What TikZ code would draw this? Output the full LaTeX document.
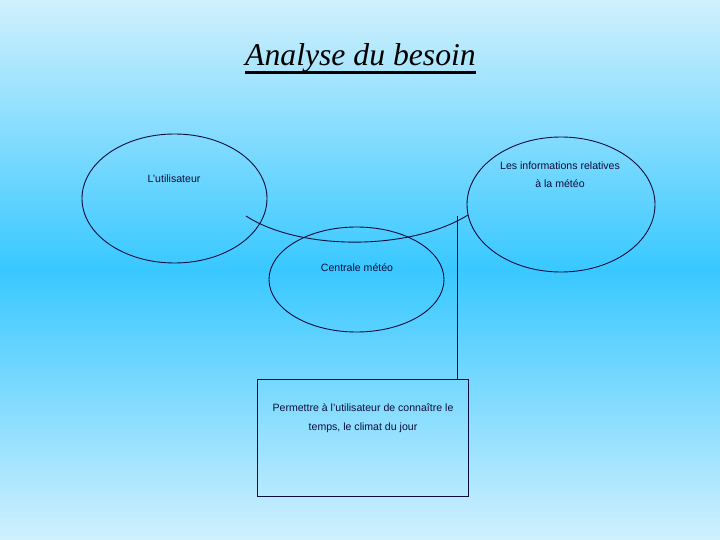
\documentclass[tikz,border=0pt]{standalone}
\usepackage{fontspec}
\setmainfont{Liberation Sans}
\newfontfamily\titrefont{Liberation Serif}
\usetikzlibrary{shapes.geometric}

\definecolor{ciel}{RGB}{208,240,253}
\definecolor{azur}{RGB}{56,200,255}
\definecolor{encre}{RGB}{12,12,60}

\begin{document}
\begin{tikzpicture}[x=1bp, y=-1bp,
  bulle/.style={draw=encre, ellipse, inner sep=0pt, line width=0.9bp},
  texte/.style={text=encre, font=\fontsize{10.6}{18.5}\selectfont, align=center, inner sep=0pt}]
\shade[top color=ciel, bottom color=ciel, middle color=azur] (0,0) rectangle (720,540);
\useasboundingbox (0,0) rectangle (720,540);

% titre
\node (titre) at (360.5,66) [anchor=base, inner sep=0pt, font=\titrefont\itshape\fontsize{31.8}{36}\selectfont] {Analyse du besoin};
\draw[line width=2.5bp] ([yshift=-6.5bp]titre.base west) -- ([yshift=-6.5bp]titre.base east);

% les trois bulles
\node (util) at (174.5,198.5) [bulle, minimum width=185bp, minimum height=129bp] {};
\node (infos) at (561,204.5) [bulle, minimum width=188bp, minimum height=135bp] {};
\node (centrale) at (356.5,279.5) [bulle, minimum width=175bp, minimum height=105bp] {};
\node (utiltxt) at (174,179) [texte] {L'utilisateur};
\node (infostxt) at (560,175) [texte] {Les informations relatives\\ à la météo};
\node (centraletxt) at (357,268) [texte] {Centrale météo};

% but
\node (but) at (362.5,437.5) [draw=encre, line width=0.9bp, minimum width=211bp, minimum height=117bp, inner sep=0pt] {};
\node (buttxt) at (363,418) [texte] {Permettre à l'utilisateur de connaître le\\ temps, le climat du jour};

% liaisons
\coordinate (gauche) at (246,216);
\coordinate (droite) at (468,215);
\coordinate (pied) at (457,216);
\draw[encre, line width=0.9bp] (gauche) .. controls (300,251) and (410,251) .. (droite);
\draw[encre, line width=0.9bp] (pied) -- (pied |- but.north);
\end{tikzpicture}
\end{document}
